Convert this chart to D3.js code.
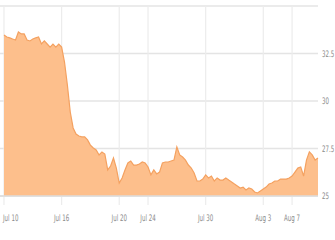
<!DOCTYPE html>
<html>
<head>
<meta charset="utf-8">
<script src="https://cdn.jsdelivr.net/npm/d3@7"></script>
<style>
    body { margin: 0; background: #fff; }
    .axis-lab { font-family: "DejaVu Sans Condensed", "Liberation Sans", sans-serif; font-size: 9px; fill: #8a8a8a; }
</style>
</head>
<body>
<div id="chart"></div>
<script>
// price values, one per sample
const values = [
    33.47, 33.37, 33.32, 33.26, 33.21, 33.63, 33.53, 33.53, 33.21, 33.16,
    33.26, 33.32, 33.37, 33.00, 33.16, 33.00, 32.84, 33.00, 32.84, 33.00,
    32.84, 32.05, 30.84, 29.42, 28.58, 28.26, 28.16, 28.11, 28.11, 27.95,
    27.68, 27.53, 27.42, 27.16, 27.32, 27.21, 26.37, 26.58, 27.00, 26.47,
    25.68, 25.95, 26.37, 26.74, 26.84, 26.63, 26.63, 26.68, 26.79, 26.74,
    26.53, 26.11, 26.37, 26.16, 26.26, 26.74, 26.79, 26.79, 26.84, 26.89,
    27.58, 27.16, 27.05, 26.89, 26.63, 26.47, 26.21, 25.79, 25.79, 25.89,
    26.11, 25.95, 26.05, 25.79, 25.95, 25.84, 25.84, 25.95, 25.84, 25.74,
    25.63, 25.53, 25.42, 25.47, 25.32, 25.42, 25.37, 25.21, 25.16, 25.26,
    25.37, 25.47, 25.63, 25.68, 25.79, 25.79, 25.89, 25.89, 25.89, 25.95,
    26.05, 26.26, 26.47, 26.53, 26.05, 26.89, 27.32, 27.16, 26.89, 27.00
];

// date labels and the sample index they sit on
const dateLabels = ["Jul 10", "Jul 16", "Jul 20", "Jul 24", "Jul 30", "Aug 3", "Aug 7"];
const dateIndex = [0, 20, 40, 50, 70, 90, 100];

const yTicks = [25, 27.5, 30, 32.5];
const yGrid = [25, 27.5, 30, 32.5, 35];

const width = 335, height = 240;
const margin = {top: 6, right: 17, bottom: 44, left: 4};
const squeeze = 0.68; // labels are drawn narrow

const svg = d3.select("#chart").append("svg")
    .attr("width", width)
    .attr("height", height);

const x = d3.scaleLinear()
    .domain([0, values.length - 1])
    .range([margin.left, width - margin.right]);

const y = d3.scaleLinear()
    .domain([25, 35])
    .range([height - margin.bottom, margin.top]);

// horizontal grid
svg.append("g")
    .selectAll("line")
    .data(yGrid)
    .enter().append("line")
    .attr("x1", 0)
    .attr("x2", width - margin.right)
    .attr("y1", d => y(d))
    .attr("y2", d => y(d))
    .attr("stroke", "#e4e4e4")
    .attr("stroke-width", 1.5);

// vertical grid, runs a bit under the baseline like a tick
svg.append("g")
    .selectAll("line")
    .data(dateIndex)
    .enter().append("line")
    .attr("x1", d => x(d))
    .attr("x2", d => x(d))
    .attr("y1", margin.top)
    .attr("y2", height - margin.bottom + 9)
    .attr("stroke", "#ececec")
    .attr("stroke-width", 1.2);

const area = d3.area()
    .x((d, i) => x(i))
    .y0(y(25))
    .y1(d => y(d));

const line = d3.line()
    .x((d, i) => x(i))
    .y(d => y(d));

svg.append("path")
    .datum(values)
    .attr("d", area)
    .attr("fill", "#fdbf8c");

svg.append("path")
    .datum(values)
    .attr("d", line)
    .attr("fill", "none")
    .attr("stroke", "#f4a160")
    .attr("stroke-width", 1.2);

// baseline
svg.append("line")
    .attr("x1", 0)
    .attr("x2", width - margin.right)
    .attr("y1", y(25))
    .attr("y2", y(25))
    .attr("stroke", "#dcdcdc")
    .attr("stroke-width", 1.5);

// right hand value labels
svg.append("g")
    .selectAll("text")
    .data(yTicks)
    .enter().append("text")
    .attr("class", "axis-lab")
    .attr("transform", d => `translate(${width - margin.right + 4},${y(d) + 3}) scale(${squeeze},1)`)
    .text(d => d);

// date labels
svg.append("g")
    .selectAll("text")
    .data(dateIndex)
    .enter().append("text")
    .attr("class", "axis-lab")
    .attr("transform", d => `translate(${d === 0 ? 3 : x(d)},${height - margin.bottom + 25}) scale(${squeeze},1)`)
    .attr("text-anchor", d => d === 0 ? "start" : "middle")
    .text((d, i) => dateLabels[i]);
</script>
</body>
</html>
